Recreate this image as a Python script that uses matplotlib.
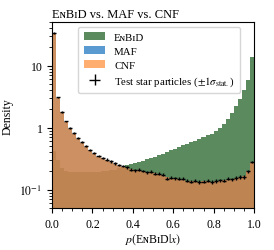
import matplotlib
matplotlib.use("Agg")
import matplotlib.pyplot as plt
import numpy as np
from matplotlib.ticker import FixedLocator, FixedFormatter, LogLocator, NullFormatter, MultipleLocator

plt.rcParams["font.family"] = ["Liberation Serif", "DejaVu Serif"]
plt.rcParams["mathtext.fontset"] = "stix"

# 50 bins on [0, 1], densities
edges = np.linspace(0, 1, 51)
enbid = [0.42, 0.30, 0.22, 0.20, 0.195, 0.19, 0.19, 0.19, 0.19, 0.19,
         0.19, 0.195, 0.20, 0.20, 0.205, 0.21, 0.22, 0.235, 0.25, 0.26,
         0.27, 0.28, 0.295, 0.31, 0.325, 0.34, 0.36, 0.38, 0.40, 0.43,
         0.46, 0.49, 0.52, 0.55, 0.58, 0.62, 0.66, 0.70, 0.75, 0.80,
         0.88, 0.98, 1.15, 1.40, 1.70, 2.20, 2.90, 4.00, 5.80, 13.8]
cnf = [33.0, 3.05, 1.77, 1.24, 0.96, 0.80, 0.66, 0.57, 0.49, 0.43,
       0.38, 0.34, 0.32, 0.30, 0.28, 0.26, 0.245, 0.235, 0.225, 0.215,
       0.21, 0.205, 0.20, 0.195, 0.19, 0.185, 0.18, 0.17, 0.16, 0.15,
       0.15, 0.148, 0.145, 0.14, 0.138, 0.136, 0.135, 0.137, 0.136, 0.135,
       0.138, 0.14, 0.142, 0.145, 0.15, 0.155, 0.16, 0.165, 0.20, 0.28]
maf = [32.5, 3.0, 1.75, 1.23, 0.95, 0.79, 0.66, 0.57, 0.49, 0.43,
       0.38, 0.34, 0.32, 0.30, 0.28, 0.26, 0.245, 0.235, 0.225, 0.215,
       0.21, 0.205, 0.20, 0.195, 0.19, 0.185, 0.18, 0.17, 0.16, 0.15,
       0.15, 0.148, 0.145, 0.14, 0.138, 0.136, 0.135, 0.137, 0.136, 0.135,
       0.138, 0.14, 0.142, 0.145, 0.15, 0.155, 0.16, 0.165, 0.20, 0.28]
test = [34.0, 3.1, 1.80, 1.26, 0.98, 0.82, 0.67, 0.58, 0.50, 0.44,
        0.39, 0.35, 0.325, 0.305, 0.285, 0.265, 0.25, 0.24, 0.23, 0.21,
        0.205, 0.21, 0.20, 0.19, 0.195, 0.18, 0.18, 0.175, 0.15, 0.155,
        0.152, 0.15, 0.15, 0.14, 0.135, 0.14, 0.132, 0.135, 0.14, 0.133,
        0.138, 0.142, 0.14, 0.15, 0.148, 0.155, 0.16, 0.16, 0.20, 0.28]
test_err = [1.0, 0.08, 0.05, 0.04, 0.03, 0.03, 0.025, 0.02, 0.02, 0.018,
            0.016, 0.015, 0.014, 0.014, 0.013, 0.012, 0.012, 0.012, 0.011, 0.011,
            0.011, 0.011, 0.01, 0.01, 0.01, 0.01, 0.01, 0.01, 0.009, 0.009,
            0.009, 0.009, 0.009, 0.009, 0.009, 0.009, 0.009, 0.009, 0.009, 0.009,
            0.009, 0.009, 0.009, 0.009, 0.009, 0.01, 0.01, 0.01, 0.011, 0.013]

enbid_lbl = "E\u0274B\u026aD"

fig = plt.figure(figsize=(2.74, 2.51), dpi=100)
ax = fig.add_axes([0.19, 0.166, 0.737, 0.741])

ax.stairs(enbid, edges, fill=True, baseline=1e-3, color="#15581b", alpha=0.7, label=enbid_lbl)
ax.stairs(maf, edges, fill=True, baseline=1e-3, color="#1370bc", alpha=0.7, label="MAF")
ax.stairs(cnf, edges, fill=True, baseline=1e-3, color="#ff8c33", alpha=0.7, label="CNF")

centers = 0.5 * (edges[:-1] + edges[1:])
ax.errorbar(centers, test, xerr=0.01, yerr=test_err, fmt="none", ecolor="black",
            elinewidth=1.0, label="Test star particles ($\\pm1\\sigma_{\\rm stat.}$)")

ax.set_yscale("log")
ax.set_xlim(0, 1)
ax.set_ylim(0.05, 50)
ax.xaxis.set_major_locator(MultipleLocator(0.2))
ax.xaxis.set_minor_locator(MultipleLocator(0.05))
ax.yaxis.set_major_locator(FixedLocator([0.1, 1, 10]))
ax.yaxis.set_major_formatter(FixedFormatter(["$10^{-1}$", "1", "10"]))
ax.yaxis.set_minor_locator(LogLocator(base=10, subs=np.arange(2, 10)))
ax.yaxis.set_minor_formatter(NullFormatter())
ax.tick_params(labelsize=8.5)

ax.set_xlabel("$p($" + enbid_lbl + "$|x)$", fontsize=8.5, labelpad=1)
ax.set_ylabel("Density", fontsize=8.5)
ax.set_title(enbid_lbl + " vs. MAF vs. CNF", fontsize=9, loc="left", pad=4)

ax.legend(loc="upper left", bbox_to_anchor=(0.13, 0.975), fontsize=7.8, borderaxespad=0,
          handlelength=2.0, labelspacing=0.4, handletextpad=0.8, borderpad=0.5)

fig.savefig("out.png", dpi=100)
